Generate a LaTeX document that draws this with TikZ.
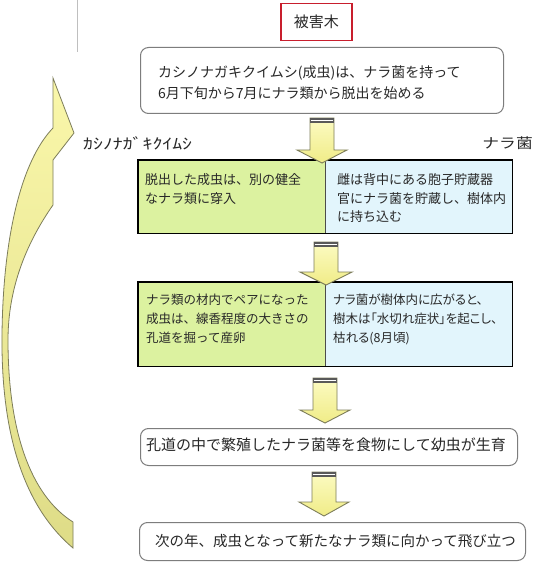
\documentclass[tikz,border=0pt]{standalone}
\usepackage{fontspec}
\setmainfont{Noto Sans CJK JP}
\newfontfamily\pfont{Noto Sans CJK JP}[RawFeature=+palt]
\definecolor{txt}{RGB}{40,40,40}
\definecolor{cellgreen}{RGB}{220,242,160}
\definecolor{cellblue}{RGB}{226,245,252}
\definecolor{arrline}{RGB}{125,125,90}
\definecolor{arrtop}{RGB}{252,251,195}
\definecolor{arrbot}{RGB}{240,236,135}
\definecolor{bigtop}{RGB}{250,247,170}
\definecolor{bigbot}{RGB}{222,220,135}
\definecolor{redframe}{RGB}{200,30,45}
\definecolor{roundline}{RGB}{125,125,125}
\tikzset{
  rbox/.style={draw=roundline, line width=1pt, rounded corners=8pt, fill=white, inner sep=0pt},
  redbox/.style={draw=redframe, line width=1.5pt, fill=white, inner sep=0pt},
  cellL/.style={fill=cellgreen, inner sep=0pt},
  cellR/.style={fill=cellblue, inner sep=0pt},
  frame/.style={draw=black, line width=1.8pt},
  divider/.style={draw=black!70, line width=0.8pt},
  ttext/.style={text=txt, inner sep=0pt, align=left, anchor=west},
  arr/.style={draw=arrline, line width=0.9pt, top color=arrtop, bottom color=arrbot, line join=miter},
  bigarr/.style={draw=arrline, line width=0.8pt, top color=bigtop, bottom color=bigbot},
}
\newcommand\dnarrow[5]{% cx, top, headstart, tip, half head width
  \path[arr] (#1-12,#2) -- (#1+12,#2) -- (#1+12,#3) -- (#1+#5,#3) -- (#1,#4) -- (#1-#5,#3) -- (#1-12,#3) -- cycle;
  \fill[black!65] (#1-12,#2) rectangle (#1+12,#2+5);
  \fill[white] (#1-11,#2+1.8) rectangle (#1+11,#2+3.2);
}
\begin{document}
\begin{tikzpicture}[x=1pt,y=-1pt]
\useasboundingbox[fill=white] (0,0) rectangle (535,564);
\draw[black!25, line width=0.6pt] (77,0) -- (77,52);

% big curved arrow
\path[bigarr] (73,548) .. controls (22,505) and (1,430) .. (2,335)
  .. controls (3,235) and (22,160) .. (53,128) -- (53,78) -- (74,133) -- (53,160) -- (53,205)
  .. controls (25,245) and (8,290) .. (8,340)
  .. controls (8,430) and (30,495) .. (73,522) -- cycle;

% title
\node[redbox, minimum width=71pt, minimum height=37pt, anchor=north west] (title) at (280,3) {};
\node[text=txt, inner sep=0pt, font=\fontsize{15}{18}\selectfont] (titletext) at (title.center) {被害木};

% box 1
\node[rbox, minimum width=363pt, minimum height=66pt, anchor=north west] (b1) at (140,47) {};
\node[ttext, font=\fontsize{14}{21}\selectfont] (t1) at (158,82.5) {カシノナガキクイムシ(成虫)は、ナラ菌を持って\\6月下旬から7月にナラ類から脱出を始める};

% labels
\node[text=txt, inner sep=0pt, anchor=west] (lab1) at (83,143) {\scalebox{1.32}[1]{\fontsize{15}{15}\selectfont ｶｼﾉﾅｶﾞｷｸｲﾑｼ}};
\node[text=txt, inner sep=0pt, anchor=east] (lab2) at (533,143) {\scalebox{1.2}[1]{\fontsize{14}{14}\selectfont ナラ菌}};

% box 2
\node[cellL, minimum width=187pt, minimum height=73pt, anchor=north west] (b2l) at (138,160) {};
\node[cellR, minimum width=187pt, minimum height=73pt, anchor=north west] (b2r) at (325,160) {};
\draw[divider] (b2l.north east) -- (b2l.south east);
\draw[frame] (b2l.north west) rectangle (b2r.south east);
\node[ttext, font=\fontsize{13}{18.5}\selectfont] (t2l) at (145,189) {脱出した成虫は、別の健全\\なナラ類に穿入};
\node[ttext, font=\fontsize{13}{18.5}\selectfont] (t2r) at (337,198.5) {雌は背中にある胞子貯蔵器\\官にナラ菌を貯蔵し、樹体内\\に持ち込む};

% box 3
\node[cellL, minimum width=187pt, minimum height=84pt, anchor=north west] (b3l) at (138,282) {};
\node[cellR, minimum width=187pt, minimum height=84pt, anchor=north west] (b3r) at (325,282) {};
\draw[divider] (b3l.north east) -- (b3l.south east);
\draw[frame] (b3l.north west) rectangle (b3r.south east);
\node[ttext, font=\fontsize{12.5}{19}\selectfont] (t3l) at (146,319) {ナラ類の材内でペアになった\\成虫は、線香程度の大きさの\\孔道を掘って産卵};
\node[ttext, font=\fontsize{12.5}{19}\selectfont\pfont] (t3r) at (333,319) {ナラ菌が樹体内に広がると、\\樹木は「水切れ症状」を起こし、\\枯れる(8月頃)};

% box 4
\node[rbox, minimum width=377pt, minimum height=37pt, anchor=north west] (b4) at (140,428) {};
\node[ttext, font=\fontsize{15}{18}\selectfont] (t4) at (146,445) {孔道の中で繁殖したナラ菌等を食物にして幼虫が生育};

% box 5
\node[rbox, minimum width=386pt, minimum height=38pt, anchor=north west] (b5) at (139,522) {};
\node[ttext, font=\fontsize{14.5}{18}\selectfont] (t5) at (155,541) {次の年、成虫となって新たなナラ類に向かって飛び立つ};

% down arrows
\dnarrow{322}{118}{150}{163}{25}
\dnarrow{326}{242}{272}{285}{26}
\dnarrow{325}{378}{410}{423}{25}
\dnarrow{324}{472}{502}{516}{25}
\end{tikzpicture}
\end{document}
